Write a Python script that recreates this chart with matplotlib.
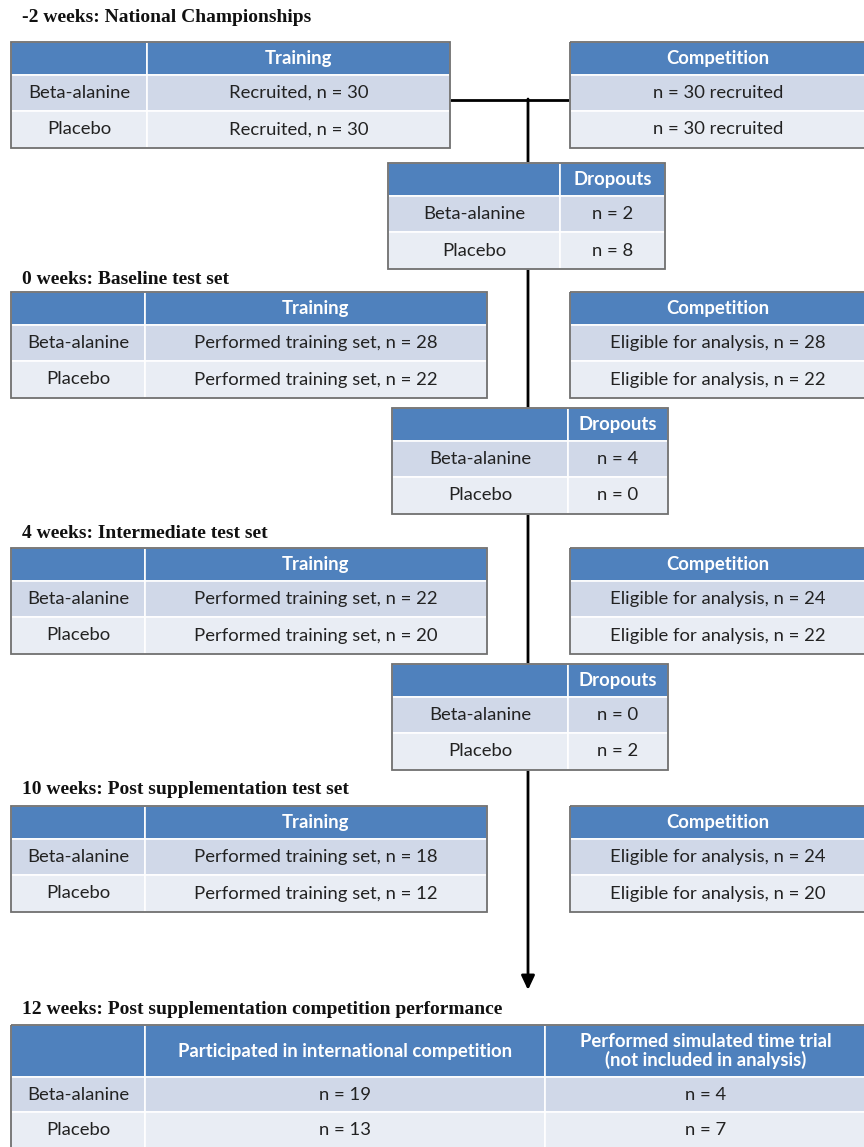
import matplotlib.pyplot as plt
from matplotlib.patches import Rectangle

# ---- data ----
groups = ["Beta-alanine", "Placebo"]
section_titles = ["-2 weeks: National Championships",
                  "0 weeks: Baseline test set",
                  "4 weeks: Intermediate test set",
                  "10 weeks: Post supplementation test set",
                  "12 weeks: Post supplementation competition performance"]
training_n = [30, 28, 22, 18]
competition_n = [30, 28, 24, 24]
training_n_placebo = [30, 22, 20, 12]
competition_n_placebo = [30, 22, 22, 20]
dropouts_beta = [2, 4, 0]
dropouts_placebo = [8, 0, 2]
final_headers = ["Participated in international competition",
                 "Performed simulated time trial\n(not included in analysis)"]
final_beta = [19, 4]
final_placebo = [13, 7]

HEAD = "#4f81bd"
ROW1 = "#d0d8e8"
ROW2 = "#e9edf4"
BODY_FONT = "Lato"
TITLE_FONT = "Liberation Serif"

fig = plt.figure(figsize=(8.64, 11.47), dpi=100)
ax = fig.add_axes([0, 0, 1, 1])
ax.set_xlim(0, 864)
ax.set_ylim(1147, 0)
ax.axis("off")


def table(x0, x1, y0, splits, heights, header, rows, fs=13.3):
    """splits: x positions of column boundaries; heights: header, row1, row2"""
    cols = [x0] + splits + [x1]
    ys = [y0]
    for h in heights:
        ys.append(ys[-1] + h)
    fills = [HEAD, ROW1, ROW2]
    content = [header] + rows
    for r in range(3):
        for c in range(len(cols) - 1):
            ax.add_patch(Rectangle((cols[c], ys[r]), cols[c + 1] - cols[c], ys[r + 1] - ys[r],
                                   facecolor=fills[r], edgecolor="white", lw=1.2, zorder=3))
            txt = content[r][c]
            if txt:
                ax.text((cols[c] + cols[c + 1]) / 2, (ys[r] + ys[r + 1]) / 2, txt,
                        ha="center", va="center", fontsize=fs, family=BODY_FONT,
                        color="white" if r == 0 else "#222222",
                        fontweight="bold" if r == 0 else "normal", zorder=4,
                        linespacing=1.1)
    ax.add_patch(Rectangle((x0, y0), x1 - x0, ys[-1] - y0, fill=False,
                           edgecolor="#6f6f6f", lw=1.3, zorder=5))


def title(y, s):
    ax.text(22, y, s, ha="left", va="center", fontsize=14, family=TITLE_FONT,
            fontweight="bold", color="#111111")


# connector lines
ax.plot([450, 570], [100, 100], color="black", lw=2, zorder=1)
ax.annotate("", xy=(528, 990), xytext=(528, 99),
            arrowprops=dict(arrowstyle="-|>,head_length=0.85,head_width=0.4", color="black",
                            lw=2, mutation_scale=10, shrinkA=0, shrinkB=0), zorder=1)

# stages
title_y = [18, 279, 533, 790]
table_y = [42, 292, 548, 806]
for i in range(4):
    title(title_y[i], section_titles[i])
    if i == 0:
        tr_rows = [[groups[0], "Recruited, n = %d" % training_n[i]],
                   [groups[1], "Recruited, n = %d" % training_n_placebo[i]]]
        co_rows = [["n = %d recruited" % competition_n[i]],
                   ["n = %d recruited" % competition_n_placebo[i]]]
        table(11, 450, table_y[i], [147], [33, 36, 37], ["", "Training"], tr_rows)
    else:
        tr_rows = [[groups[0], "Performed training set, n = %d" % training_n[i]],
                   [groups[1], "Performed training set, n = %d" % training_n_placebo[i]]]
        co_rows = [["Eligible for analysis, n = %d" % competition_n[i]],
                   ["Eligible for analysis, n = %d" % competition_n_placebo[i]]]
        table(11, 487, table_y[i], [145], [33, 36, 37], ["", "Training"], tr_rows)
    table(570, 866, table_y[i], [], [33, 36, 37], ["Competition"], co_rows)

# dropouts
drop_x = [(388, 560, 665), (392, 568, 668), (392, 568, 668)]
drop_y = [163, 408, 664]
for i in range(3):
    x0, xs, x1 = drop_x[i]
    table(x0, x1, drop_y[i], [xs], [33, 36, 37], ["", "Dropouts"],
          [[groups[0], "n = %d" % dropouts_beta[i]],
           [groups[1], "n = %d" % dropouts_placebo[i]]])

# final
title(1010, section_titles[4])
table(11, 866, 1025, [145, 545], [52, 35, 36], [""] + final_headers,
      [[groups[0]] + ["n = %d" % v for v in final_beta],
       [groups[1]] + ["n = %d" % v for v in final_placebo]])

fig.savefig("out.png", dpi=100)
